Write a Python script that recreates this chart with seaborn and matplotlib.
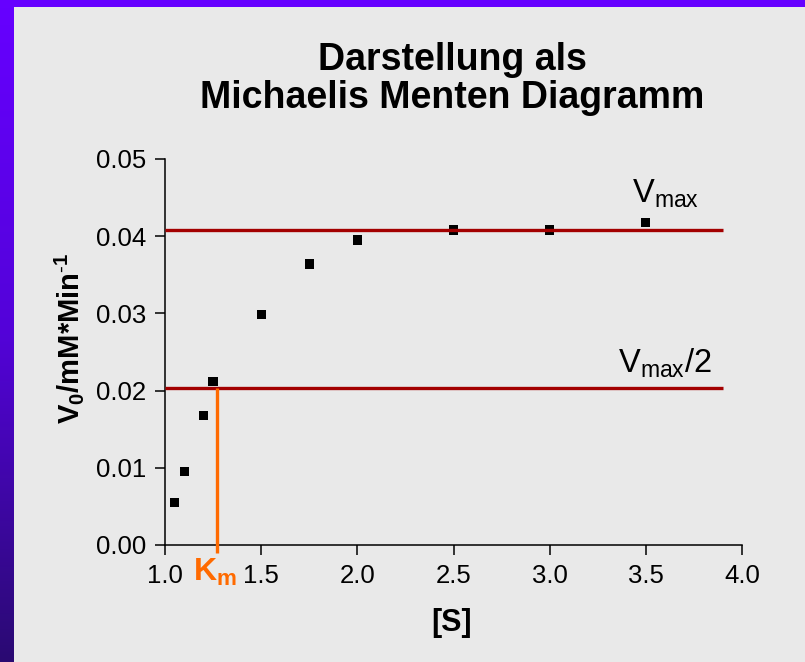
import numpy as np
import pandas as pd
import matplotlib
matplotlib.use("Agg")
import matplotlib.pyplot as plt
import seaborn as sns
from matplotlib.colors import LinearSegmentedColormap

# ---- data ----
substrate = [1.05, 1.10, 1.20, 1.25, 1.50, 1.75, 2.00, 2.50, 3.00, 3.50]
velocity = [0.0055, 0.0095, 0.0168, 0.0212, 0.0299, 0.0364, 0.0395, 0.0408, 0.0408, 0.0418]
vmax = 0.0408
km = 1.27
line_x_range = [1.0, 3.9]
x_ticks = [1.0, 1.5, 2.0, 2.5, 3.0, 3.5, 4.0]
y_ticks = [0.00, 0.01, 0.02, 0.03, 0.04, 0.05]

df = pd.DataFrame({"S": substrate, "V": velocity})

sns.set_style("ticks")
plt.rcParams["font.family"] = ["Liberation Sans", "DejaVu Sans"]
plt.rcParams["text.color"] = "black"
plt.rcParams["axes.labelcolor"] = "black"
plt.rcParams["xtick.color"] = "black"
plt.rcParams["ytick.color"] = "black"
plt.rcParams["mathtext.fontset"] = "custom"
plt.rcParams["mathtext.rm"] = "Liberation Sans"
plt.rcParams["mathtext.it"] = "Liberation Sans:italic"
plt.rcParams["mathtext.bf"] = "Liberation Sans:bold"

W, H = 805, 662
fig = plt.figure(figsize=(W / 100, H / 100), dpi=100, facecolor="#e9e9e9")

# purple frame (top strip + left gradient strip)
top = fig.add_axes([0, 1 - 7 / H, 1, 7 / H])
top.set_facecolor("#6600ff")
top.set_xticks([]); top.set_yticks([])
for s in top.spines.values():
    s.set_visible(False)
left = fig.add_axes([0, 0, 13 / W, 1 - 7 / H])
cmap = LinearSegmentedColormap.from_list("pg", ["#6600ff", "#5303d8", "#2a0a72"])
left.imshow(np.linspace(0, 1, 256).reshape(-1, 1), aspect="auto", cmap=cmap)
left.axis("off")

# main axes
ax = fig.add_axes([165 / W, 1 - 545 / H, (742 - 165) / W, (545 - 159) / H])
ax.set_facecolor("#e9e9e9")

sns.scatterplot(data=df, x="S", y="V", ax=ax, marker="s", color="black",
                s=44, edgecolor="none", linewidth=0, zorder=2, legend=False)

red = "#a30000"
orange = "#ff6a00"
ax.hlines([vmax, vmax / 2], line_x_range[0], line_x_range[1], colors=red,
          linewidth=2.4, zorder=3)
ax.vlines(km, -0.0011, vmax / 2, colors=orange, linewidth=2.4, zorder=3,
          clip_on=False)

ax.set_xlim(1.0, 4.0)
ax.set_ylim(0, 0.05)
ax.set_xticks(x_ticks)
ax.set_yticks(y_ticks)
ax.set_xticklabels([f"{v:.1f}" for v in x_ticks])
ax.set_yticklabels([f"{v:.2f}" for v in y_ticks])
ax.tick_params(axis="both", length=7.5, width=1.1, color="black",
               labelsize=18.5, labelcolor="black", pad=6)
for side in ["top", "right"]:
    ax.spines[side].set_visible(False)
for side in ["left", "bottom"]:
    ax.spines[side].set_linewidth(1.1)
    ax.spines[side].set_color("black")
ax.set_xlabel("")
ax.set_ylabel("")

# labels
ax.text(3.43, vmax + 0.0035, r"V$_{\mathrm{max}}$", fontsize=23.5, ha="left",
        va="baseline", color="black")
ax.text(3.355, vmax / 2 + 0.0019, r"V$_{\mathrm{max}}$/2", fontsize=23.5,
        ha="left", va="baseline", color="black")
ax.text(km - 0.01, -0.0015, r"$\mathbf{K_m}$", fontsize=23, ha="center",
        va="top", color=orange)

fig.text(452 / W, 1 - 623 / H, "[S]", fontsize=22, fontweight="bold",
         ha="center", va="center", color="black")
fig.text(69 / W, 1 - 338 / H, r"V$_\mathbf{0}$/mM*Min$^\mathbf{\text{-}1}$",
         fontsize=21, fontweight="bold", rotation=90, ha="center",
         va="center", color="black")
fig.text(452 / W, 1 - 42 / H, "Darstellung als\nMichaelis Menten Diagramm",
         fontsize=27, fontweight="bold", ha="center", va="top",
         linespacing=1.08, color="black")

fig.savefig("out.png", dpi=100, facecolor=fig.get_facecolor())
